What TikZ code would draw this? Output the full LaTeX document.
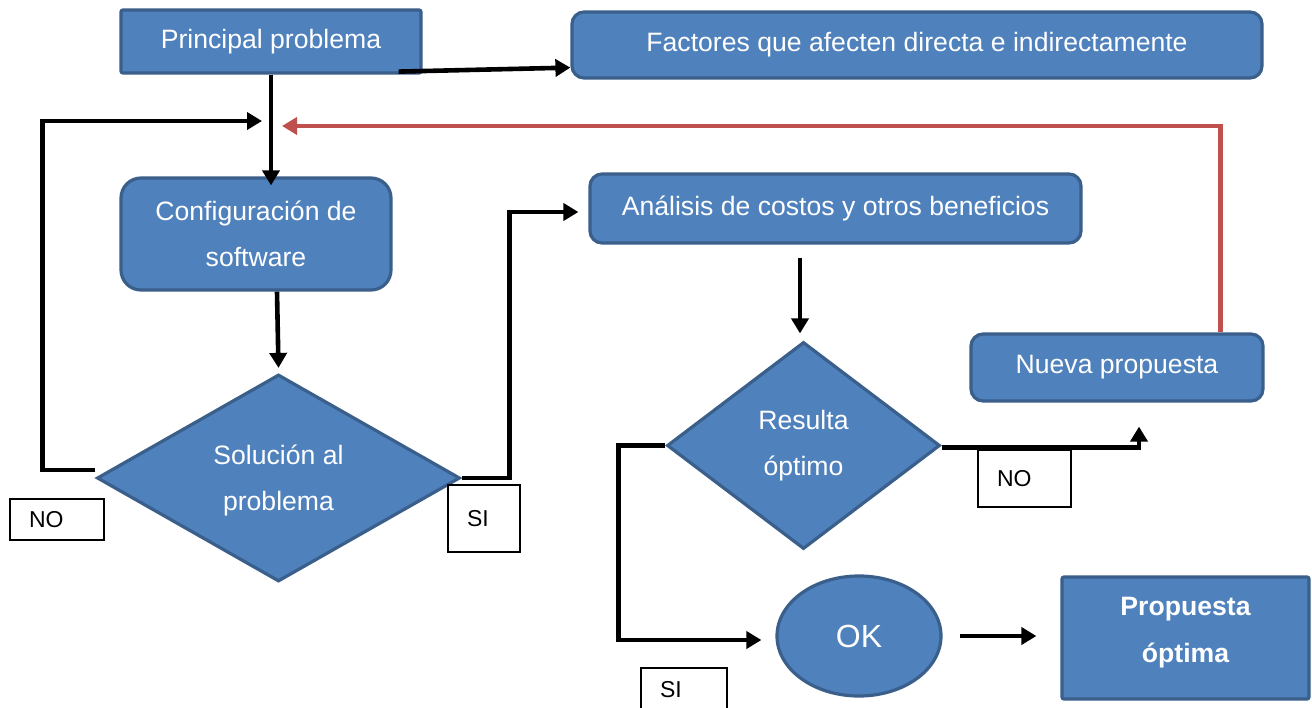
\documentclass[tikz,border=0pt]{standalone}
\usepackage{fontspec}
\setmainfont{Liberation Sans}
\usetikzlibrary{arrows.meta,shapes.geometric,calc}
\definecolor{boxfill}{HTML}{4F81BD}
\definecolor{boxline}{HTML}{3A5F8B}
\definecolor{redline}{HTML}{C0504D}
\begin{document}
\begin{tikzpicture}[x=0.5pt,y=-0.5pt,
  blk/.style={draw=boxline, fill=boxfill, line width=1.6pt, text=white,
    font=\fontsize{13.3pt}{23pt}\selectfont, align=center, inner sep=0pt},
  sqbox/.style={blk, rectangle, rounded corners=1pt},
  rbox/.style={blk, rectangle, rounded corners=6pt},
  dia/.style={blk, diamond},
  lbl/.style={draw=black, line width=0.7pt, fill=white, text=black,
    font=\fontsize{11.5pt}{13pt}\selectfont, align=left, inner xsep=9.5pt, inner ysep=0pt},
  arr/.style={line width=2.3pt, -{Triangle[length=7.5pt,width=8.5pt]}},
  redarr/.style={draw=redline, line width=2.2pt, -{Triangle[length=7.5pt,width=8.5pt]}}
]
\fill[white] (0,0) rectangle (1312,707);
\useasboundingbox (0,0) rectangle (1312,707);

% nodes
\node[sqbox, minimum width=150pt, minimum height=31.5pt] (pp) at (271,41.5) {Principal problema};
\node[rbox, minimum width=345pt, minimum height=33pt] (fac) at (917,45) {Factores que afecten directa e indirectamente};
\node[rbox, rounded corners=10pt, minimum width=135pt, minimum height=56pt] (conf) at (256,234) {Configuración de\\software};
\node[rbox, minimum width=245.5pt, minimum height=34.5pt] (ana) at (835.5,208.5) {Análisis de costos y otros beneficios};
\node[dia, aspect=1.75, minimum width=181.5pt, minimum height=103.5pt, text depth=0pt] (sol) at (278.5,478) {Solución al\\problema};
\node[dia, aspect=1.32, minimum width=136.5pt, minimum height=103.5pt] (res) at (803.5,445.5) {Resulta\\óptimo};
\node[rbox, minimum width=146pt, minimum height=33.5pt] (nue) at (1117,367.5) {Nueva propuesta};
\node[blk, ellipse, minimum width=82pt, minimum height=60pt, font=\fontsize{16pt}{19pt}\selectfont] (ok) at (859,636) {OK};
\node[sqbox, minimum width=123.5pt, minimum height=61pt, text depth=8pt, font=\bfseries\fontsize{13.3pt}{23.5pt}\selectfont] (prop) at (1185.5,638) {Propuesta\\óptima};

\node[lbl, text width=28pt, minimum height=20.5pt] (no1) at (57,519.5) {NO};
\node[lbl, text width=17pt, minimum height=33.5pt] (si1) at (484,518.5) {SI};
\node[lbl, text width=27.5pt, minimum height=28.5pt] (no2) at (1024.5,478.5) {NO};
\node[lbl, text width=24pt, minimum height=22pt] (si2) at (684,690) {SI};

\coordinate (m1) at (262,121);
\coordinate (m2) at (282,126);

% connectors
\draw[arr] ([shift={(-24,-3)}]pp.south east) -- ([shift={(0,-12)}]fac.south west);
\draw[arr] (pp.south) -- ($(pp.south |- conf.north)+(0,9)$);
\draw[arr] ([xshift=10.5pt]conf.south) -- ([yshift=2.5pt]sol.north);
\draw[arr] ([yshift=4pt]sol.west) -- ++(-53,0) |- (m1);
\draw[redarr] ([xshift=-22pt]nue.north east) |- (m2);
\draw[arr] (sol.east) -- ++(48,0) |- ([shift={(-10,3.5)}]ana.west);
\draw[arr] ([shift={(-35.5,13)}]ana.south) -- ([shift={(-3.5,-7)}]res.north);
\draw[arr] ([yshift=-1pt]res.east) -| ([shift={(22,24)}]nue.south);
\draw[arr] (res.west) -- ++(-47,0) |- ([shift={(-14,4)}]ok.west);
\draw[arr] ([xshift=8.5pt]ok.east) -- ([xshift=-12pt]prop.west |- ok.east);
\end{tikzpicture}
\end{document}
